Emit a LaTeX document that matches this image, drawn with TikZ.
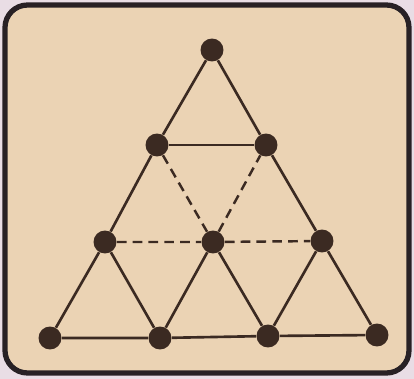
\documentclass[tikz,border=0pt]{standalone}
\usetikzlibrary{positioning}
\definecolor{outerpink}{HTML}{E9DDE5}
\definecolor{parchment}{HTML}{EBD3B4}
\definecolor{framedark}{HTML}{282125}
\definecolor{inkbrown}{HTML}{3B2A22}
\tikzset{
  peg/.style={circle, fill=inkbrown, inner sep=0pt, minimum size=0.46cm},
  rod/.style={inkbrown, line width=1.5pt},
  rodhint/.style={inkbrown, line width=1.4pt, dash pattern=on 5.5pt off 3.5pt}
}

\begin{document}
\begin{tikzpicture}[x=0.02cm, y=-0.02cm]
    \fill[outerpink] (0,0) rectangle (414,379);
    \draw[framedark, line width=3pt, fill=parchment, rounded corners=0.45cm] (5,5) rectangle (409,373);
    % dots, row by row
    \node[peg] (a) at (212,50) {};
    \node[peg] (b1) at (157,145) {};
    \node[peg] (b2) at (266,145) {};
    \node[peg] (c1) at (105,242) {};
    \node[peg] (c2) at (213,242) {};
    \node[peg] (c3) at (322,241) {};
    \node[peg] (d1) at (50,338) {};
    \node[peg] (d2) at (160,338) {};
    \node[peg] (d3) at (268,336) {};
    \node[peg] (d4) at (377,335) {};
    % outer sides and solid rods
    \draw[rod] (a) -- (b1) -- (c1) -- (d1) -- (d2) -- (d3) -- (d4) -- (c3) -- (b2) -- (a);
    \draw[rod] (b1) -- (b2);
    \draw[rod] (c1) -- (d2) -- (c2) -- (d3) -- (c3);
    % dashed rods
    \draw[rodhint] (b1) -- (c2) -- (b2);
    \draw[rodhint] (c1) -- (c2) -- (c3);
  \end{tikzpicture}
\end{document}
